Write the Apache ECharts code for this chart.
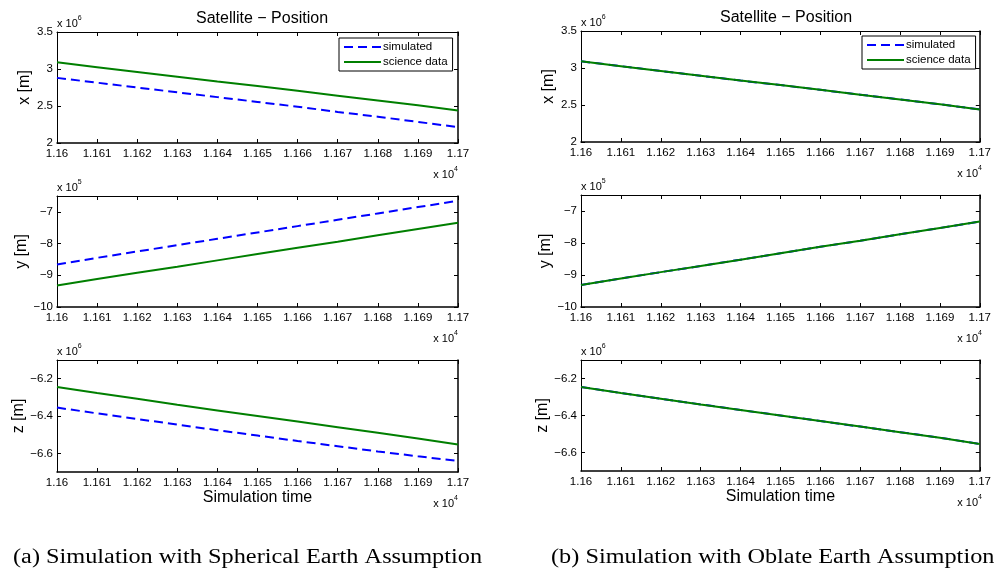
<!DOCTYPE html>
<html>
<head>
<meta charset="utf-8">
<script src="https://cdn.jsdelivr.net/npm/echarts@6/dist/echarts.min.js"></script>
<style>html,body{margin:0;padding:0;background:#fff;}#main{width:994px;height:578px;}</style>
</head>
<body>
<div id="main"></div>
<script>
// ---- data (time in s; positions in scaled units shown by the axis multiplier) ----
const times = [11600, 11610, 11620, 11630, 11640, 11650, 11660, 11670, 11680, 11690, 11700];
const xTicks = [11600, 11610, 11620, 11630, 11640, 11650, 11660, 11670, 11680, 11690, 11700];
const xPosTicks = [2, 2.5, 3, 3.5];
const yPosTicks = [-10, -9, -8, -7];
const zPosTicks = [-6.6, -6.4, -6.2];

// (a) spherical earth
const aSimX = [2.88, 2.815, 2.75, 2.685, 2.62, 2.555, 2.49, 2.42, 2.355, 2.285, 2.215];
const aSciX = [3.09, 3.025, 2.96, 2.895, 2.83, 2.77, 2.705, 2.64, 2.575, 2.51, 2.44];
const aSimY = [-8.66, -8.45, -8.25, -8.05, -7.85, -7.65, -7.45, -7.25, -7.05, -6.85, -6.65];
const aSciY = [-9.32, -9.12, -8.92, -8.73, -8.53, -8.33, -8.13, -7.94, -7.74, -7.54, -7.34];
const aSimZ = [-6.355, -6.386, -6.416, -6.446, -6.476, -6.505, -6.534, -6.562, -6.59, -6.616, -6.641];
const aSciZ = [-6.245, -6.277, -6.308, -6.34, -6.37, -6.40, -6.43, -6.46, -6.49, -6.52, -6.553];

// (b) oblate earth
const bSimX = [3.09, 3.025, 2.96, 2.895, 2.83, 2.77, 2.705, 2.64, 2.575, 2.51, 2.44];
const bSciX = [3.09, 3.025, 2.96, 2.895, 2.83, 2.77, 2.705, 2.64, 2.575, 2.51, 2.44];
const bSimY = [-9.31, -9.11, -8.91, -8.72, -8.52, -8.32, -8.12, -7.93, -7.73, -7.53, -7.33];
const bSciY = [-9.31, -9.11, -8.91, -8.72, -8.52, -8.32, -8.12, -7.93, -7.73, -7.53, -7.33];
const bSimZ = [-6.246, -6.278, -6.309, -6.34, -6.37, -6.40, -6.43, -6.46, -6.49, -6.52, -6.554];
const bSciZ = [-6.246, -6.278, -6.309, -6.34, -6.37, -6.40, -6.43, -6.46, -6.49, -6.52, -6.554];

const titleText = 'Satellite \u2212 Position';
const seriesNames = ['simulated', 'science data'];
const yNames = ['x [m]', 'y [m]', 'z [m]'];
const yExp = ['6', '5', '6'];
const xName = 'Simulation time';
const captions = ['(a) Simulation with Spherical Earth Assumption', '(b) Simulation with Oblate Earth Assumption'];

// ---- layout ----
const FONT = 'Liberation Sans, Arial, Helvetica, sans-serif';
const panels = [
  {left: 57, width: 401, top: 32, height: 111, ymin: 2, ymax: 3.5, ticks: xPosTicks, sim: aSimX, sci: aSciX, name: 0},
  {left: 57, width: 401, top: 196, height: 111, ymin: -10, ymax: -6.5, ticks: yPosTicks, sim: aSimY, sci: aSciY, name: 1},
  {left: 57, width: 401, top: 360, height: 112, ymin: -6.7, ymax: -6.1, ticks: zPosTicks, sim: aSimZ, sci: aSciZ, name: 2},
  {left: 581, width: 401, top: 31, height: 111, ymin: 2, ymax: 3.5, ticks: xPosTicks, sim: bSimX, sci: bSciX, name: 0},
  {left: 581, width: 401, top: 195, height: 112, ymin: -10, ymax: -6.5, ticks: yPosTicks, sim: bSimY, sci: bSciY, name: 1},
  {left: 581, width: 401, top: 360, height: 111, ymin: -6.7, ymax: -6.1, ticks: zPosTicks, sim: bSimZ, sci: bSciZ, name: 2}
];

const fmtMinus = v => String(+v.toFixed(4)).replace('-', '\u2212');
const grid = [], xAxis = [], yAxis = [], series = [], graphic = [];

panels.forEach((p, i) => {
  grid.push({left: p.left, top: p.top, width: p.width, height: p.height, containLabel: false});
  const isBottom = (i % 3) === 2;
  xAxis.push({
    type: 'value', gridIndex: i, position: 'bottom', min: 11600, max: 11700,
    name: isBottom ? xName : '', nameLocation: 'middle', nameGap: 17,
    nameTextStyle: {fontSize: 16, fontFamily: FONT, color: '#000'},
    axisLine: {show: true, onZero: false, lineStyle: {color: '#000', width: 1.5}},
    axisTick: {show: true, inside: true, length: 4, customValues: xTicks, lineStyle: {color: '#000', width: 1}},
    axisLabel: {show: true, customValues: xTicks, margin: 5, color: '#000', fontSize: 11.5, fontFamily: FONT,
      formatter: v => String(+(v / 1e4).toFixed(4))},
    splitLine: {show: false}
  });
  xAxis.push({
    type: 'value', gridIndex: i, position: 'top', min: 11600, max: 11700,
    axisLine: {show: true, onZero: false, lineStyle: {color: '#000', width: 1}},
    axisTick: {show: true, inside: true, length: 4, customValues: xTicks, lineStyle: {color: '#000', width: 1}},
    axisLabel: {show: false}, splitLine: {show: false}
  });
  yAxis.push({
    type: 'value', gridIndex: i, position: 'left', min: p.ymin, max: p.ymax,
    name: yNames[p.name], nameLocation: 'middle', nameGap: 24,
    nameTextStyle: {fontSize: 16, fontFamily: FONT, color: '#000'},
    axisLine: {show: true, onZero: false, lineStyle: {color: '#000', width: 1}},
    axisTick: {show: true, inside: true, length: 4, customValues: p.ticks, lineStyle: {color: '#000', width: 1}},
    axisLabel: {show: true, customValues: p.ticks, margin: 4, color: '#000', fontSize: 11.5, fontFamily: FONT, formatter: fmtMinus},
    splitLine: {show: false}
  });
  yAxis.push({
    type: 'value', gridIndex: i, position: 'right', min: p.ymin, max: p.ymax,
    axisLine: {show: true, onZero: false, lineStyle: {color: '#000', width: 1.5}},
    axisTick: {show: true, inside: true, length: 4, customValues: p.ticks, lineStyle: {color: '#000', width: 1}},
    axisLabel: {show: false}, splitLine: {show: false}
  });
  series.push({
    name: seriesNames[0], type: 'line', xAxisIndex: 2 * i, yAxisIndex: 2 * i,
    data: times.map((t, k) => [t, p.sim[k]]), symbol: 'none', showSymbol: false, clip: true,
    lineStyle: {color: '#0000ff', width: 2, type: [9, 5]}, itemStyle: {color: '#0000ff'}, z: 2
  });
  series.push({
    name: seriesNames[1], type: 'line', xAxisIndex: 2 * i, yAxisIndex: 2 * i,
    data: times.map((t, k) => [t, p.sci[k]]), symbol: 'none', showSymbol: false, clip: true,
    lineStyle: {color: '#007f00', width: 2, type: 'solid'}, itemStyle: {color: '#007f00'}, z: 3
  });
  graphic.push({
    type: 'text', x: p.left, y: p.top - 3,
    style: {text: '{b|x 10}{s|' + yExp[p.name] + '}', align: 'left', verticalAlign: 'bottom',
      rich: {b: {fontSize: 11, fontFamily: FONT, fill: '#000', lineHeight: 14, verticalAlign: 'bottom'},
             s: {fontSize: 7, fontFamily: FONT, fill: '#000', lineHeight: 14, verticalAlign: 'top'}}}
  });
  graphic.push({
    type: 'text', x: p.left + p.width, y: p.top + p.height + 23,
    style: {text: '{b|x 10}{s|4}', align: 'right', verticalAlign: 'top',
      rich: {b: {fontSize: 11, fontFamily: FONT, fill: '#000', lineHeight: 14, verticalAlign: 'bottom'},
             s: {fontSize: 7, fontFamily: FONT, fill: '#000', lineHeight: 14, verticalAlign: 'top'}}}
  });
});

graphic.push({type: 'text', x: 13, y: 558, scaleX: 1.215,
  style: {text: captions[0], font: '20px "Liberation Serif", "Times New Roman", serif', fill: '#000', align: 'left', verticalAlign: 'middle'}});
graphic.push({type: 'text', x: 551, y: 558, scaleX: 1.215,
  style: {text: captions[1], font: '20px "Liberation Serif", "Times New Roman", serif', fill: '#000', align: 'left', verticalAlign: 'middle'}});

const legendBase = {
  orient: 'vertical', data: seriesNames, selectedMode: false,
  padding: [3, 5, 3, 4], itemGap: 3, itemWidth: 37, itemHeight: 12,
  borderColor: '#000', borderWidth: 1, backgroundColor: '#fff', borderRadius: 0,
  itemStyle: {opacity: 0, borderWidth: 0},
  textStyle: {fontSize: 11.5, fontFamily: FONT, color: '#000', padding: [0, 0, 0, -3]}
};

const chart = echarts.init(document.getElementById('main'), null, {renderer: 'canvas'});
chart.setOption({
  animation: false,
  backgroundColor: '#fff',
  title: [
    {text: titleText, left: 257, top: 6, textAlign: 'center', textStyle: {fontSize: 16, fontWeight: 'normal', fontFamily: FONT, color: '#000'}},
    {text: titleText, left: 781, top: 5, textAlign: 'center', textStyle: {fontSize: 16, fontWeight: 'normal', fontFamily: FONT, color: '#000'}}
  ],
  legend: [
    Object.assign({}, legendBase, {left: 339, top: 38}),
    Object.assign({}, legendBase, {left: 862, top: 36})
  ],
  grid, xAxis, yAxis, series, graphic
});
</script>
</body>
</html>
